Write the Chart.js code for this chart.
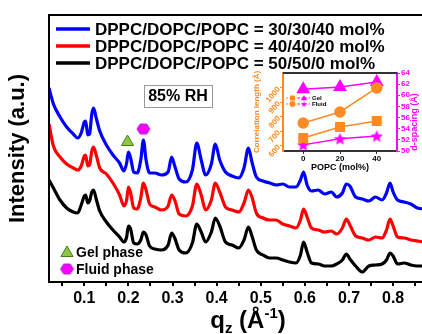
<!DOCTYPE html>
<html>
<head>
<meta charset="utf-8">
<script src="https://cdn.jsdelivr.net/npm/chart.js@4.4.0/dist/chart.umd.min.js"></script>
<style>
  html, body { margin: 0; padding: 0; overflow: hidden; background: #fff; }
  #wrap { position: relative; width: 422px; height: 334px; overflow: hidden; }
  #main { position: absolute; left: 0; top: 0; }
  #inset { position: absolute; left: 240px; top: 60px; }
</style>
</head>
<body>
<div id="wrap">
  <canvas id="main" width="432" height="334"></canvas>
  <canvas id="inset" width="182" height="120"></canvas>
</div>
<script>
Chart.defaults.font.family = "'Liberation Sans', Arial, sans-serif";
Chart.defaults.color = "#000";

// ---- main XRD curves (q in 1/A, intensity in a.u., curves already offset) ----
const qValues = [0.02, 0.03, 0.045, 0.06, 0.075, 0.085, 0.093, 0.1, 0.103, 0.108,
  0.112, 0.117, 0.121, 0.127, 0.135, 0.15, 0.165, 0.18, 0.19, 0.196,
  0.2, 0.205, 0.212, 0.22, 0.228, 0.234, 0.24, 0.248, 0.26, 0.275,
  0.29, 0.298, 0.305, 0.315, 0.33, 0.345, 0.355, 0.365, 0.375, 0.388,
  0.397, 0.407, 0.42, 0.435, 0.45, 0.462, 0.472, 0.48, 0.49, 0.505,
  0.52, 0.535, 0.55, 0.565, 0.58, 0.59, 0.597, 0.605, 0.615, 0.63,
  0.645, 0.66, 0.672, 0.685, 0.694, 0.702, 0.715, 0.73, 0.745, 0.76,
  0.775, 0.785, 0.793, 0.8, 0.81, 0.825, 0.84, 0.855, 0.87];

const intensity303040 = [194, 178, 165, 155, 148, 144, 149, 160, 161, 147,
  148, 168, 174, 164, 151, 137, 127, 119, 111, 119,
  130, 124, 110, 109, 122, 142, 122, 109, 109, 107,
  110, 125, 116, 103, 100, 112, 139, 122, 107, 118,
  138, 122, 110, 106, 104, 114, 134, 120, 105, 101,
  99, 97, 98, 95, 95, 102, 110, 97, 91, 92,
  88, 90, 85, 89, 98, 96, 85, 83, 81, 85,
  82, 89, 99, 90, 82, 80, 78, 74, 73];

const intensity404020 = [158, 136, 125, 118, 114, 112, 116, 126, 127, 116,
  117, 131, 135, 127, 114, 108, 99, 87, 76, 82,
  95, 89, 74, 73, 84, 99, 92, 78, 75, 72,
  76, 87, 82, 68, 66, 76, 98, 87, 72, 82,
  99, 90, 75, 72, 70, 79, 92, 85, 69, 64,
  62, 62, 58, 56, 54, 62, 73, 65, 54, 52,
  50, 51, 48, 54, 63, 57, 46, 44, 42, 45,
  44, 52, 63, 56, 45, 44, 42, 41, 40];

const intensity50500 = [102, 94, 82, 74, 70, 69, 77, 86, 87, 79,
  81, 90, 92, 83, 71, 60, 52, 45, 40, 45,
  56, 53, 39, 38, 42, 50, 47, 36, 33, 32,
  37, 49, 44, 32, 29, 39, 58, 50, 40, 50,
  64, 56, 40, 37, 34, 42, 55, 46, 32, 27,
  24, 24, 22, 20, 19, 27, 40, 30, 19, 18,
  16, 16, 18, 22, 28, 23, 16, 10, 16, 17,
  18, 22, 29, 26, 18, 19, 17, 16, 16];

const seriesLabels = [
  "DPPC/DOPC/POPC = 30/30/40 mol%",
  "DPPC/DOPC/POPC = 40/40/20 mol%",
  "DPPC/DOPC/POPC = 50/50/0 mol%"
];
const seriesColors = ["#0000ff", "#ff0000", "#000000"];
const qTicks = [0.05, 0.1, 0.15, 0.2, 0.25, 0.3, 0.35, 0.4, 0.45, 0.5, 0.55, 0.6, 0.65, 0.7, 0.75, 0.8, 0.85];

// phase markers above the blue curve
const phaseMarkQ = [0.198, 0.234];
const phaseMarkI = [140, 153];
const phaseNames = ["Gel phase", "Fluid phase"];

// ---- inset ----
const popc = [0, 20, 40];
const corrGel = [655, 731, 772];
const corrFluid = [758, 834, 1000];
const dGel = [61.1, 61.5, 62.4];
const dFluid = [51.1, 52.2, 52.7];
const corrTicks = [600, 700, 800, 900, 1000];
const dTicks = [50, 52, 54, 56, 58, 60, 62, 64];
const popcTicks = [0, 20, 40];

const ORANGE = "#ff8a24";
const MAGENTA = "#ff00ff";
const GREEN = "#8dc63f";
const FONT = "'Liberation Sans', Arial, sans-serif";

function hexagonImg(w, h, fill, stroke) {
  const c = document.createElement("canvas");
  c.width = w + 2; c.height = h + 2;
  const g = c.getContext("2d");
  const cx = c.width / 2, cy = c.height / 2;
  g.beginPath();
  for (let i = 0; i < 6; i++) {
    const a = Math.PI / 3 * i;
    g.lineTo(cx + (w / 2) * Math.cos(a), cy + (h / 2) * Math.sin(a) / Math.sin(Math.PI / 3));
  }
  g.closePath();
  g.fillStyle = fill; g.fill();
  g.lineWidth = 1; g.strokeStyle = stroke; g.stroke();
  return c;
}

function starImg(r, fill) {
  const c = document.createElement("canvas");
  c.width = c.height = Math.ceil(2 * r + 2);
  const g = c.getContext("2d");
  const cx = c.width / 2, cy = c.height / 2 + r * 0.1;
  g.beginPath();
  for (let i = 0; i < 10; i++) {
    const a = -Math.PI / 2 + i * Math.PI / 5;
    const rr = i % 2 ? r * 0.45 : r;
    g.lineTo(cx + rr * Math.cos(a), cy + rr * Math.sin(a));
  }
  g.closePath();
  g.fillStyle = fill; g.fill();
  return c;
}

const hexImg = hexagonImg(13, 10, MAGENTA, "#9933cc");
const starMark = starImg(6.5, MAGENTA);
const starSmall = starImg(3, MAGENTA);

function drawTriangle(ctx, x, y, r, fill, stroke) {
  ctx.beginPath();
  ctx.moveTo(x, y - r);
  ctx.lineTo(x + r * 0.866, y + r * 0.5);
  ctx.lineTo(x - r * 0.866, y + r * 0.5);
  ctx.closePath();
  ctx.fillStyle = fill; ctx.fill();
  if (stroke) { ctx.lineWidth = 1; ctx.strokeStyle = stroke; ctx.stroke(); }
}

// frame, legend, RH box, phase legend and x title
const mainDecor = {
  id: "mainDecor",
  afterDatasetsDraw(chart) {
    const { ctx, chartArea: a } = chart;
    ctx.save();
    ctx.strokeStyle = "#000";
    ctx.lineWidth = 2;
    ctx.strokeRect(a.left, a.top, a.right - a.left, a.bottom - a.top);

    // series legend
    const rows = [29, 46, 63];
    ctx.font = "bold 17px " + FONT;
    ctx.textBaseline = "middle";
    ctx.textAlign = "left";
    for (let i = 0; i < 3; i++) {
      ctx.strokeStyle = seriesColors[i];
      ctx.lineWidth = 3.5;
      ctx.beginPath();
      ctx.moveTo(56, rows[i]);
      ctx.lineTo(90, rows[i]);
      ctx.stroke();
      ctx.fillStyle = "#000";
      ctx.fillText(seriesLabels[i], 95, rows[i] + 1);
    }

    // 85% RH box
    ctx.strokeStyle = "#999";
    ctx.lineWidth = 1;
    ctx.strokeRect(144.5, 85.5, 68, 22);
    ctx.font = "bold 16px " + FONT;
    ctx.textAlign = "center";
    ctx.fillText("85% RH", 178, 97);

    // phase legend
    ctx.textAlign = "left";
    ctx.font = "bold 14px " + FONT;
    drawTriangle(ctx, 67, 253, 7, GREEN, "#4a7a20");
    ctx.fillStyle = "#000";
    ctx.fillText(phaseNames[0], 76, 253);
    ctx.drawImage(hexImg, 67 - hexImg.width / 2, 269 - hexImg.height / 2);
    ctx.fillText(phaseNames[1], 76, 270);

    // x axis title q_z (A^-1)
    const big = "bold 24px " + FONT, small = "bold 15px " + FONT;
    const parts = [["q", big, 0], ["z", small, 5], [" (Å", big, 0], ["-1", small, -10], [")", big, 0]];
    ctx.textBaseline = "alphabetic";
    let total = 0;
    parts.forEach(p => { ctx.font = p[1]; total += ctx.measureText(p[0]).width; });
    let x = 248 - total / 2;
    parts.forEach(p => {
      ctx.font = p[1];
      ctx.fillText(p[0], x, 328 + p[2]);
      x += ctx.measureText(p[0]).width;
    });
    ctx.restore();
  }
};

const curves = [intensity303040, intensity404020, intensity50500];
const lineSets = curves.map((arr, i) => ({
  type: "line",
  label: seriesLabels[i],
  data: qValues.map((q, j) => ({ x: q, y: arr[j] })),
  borderColor: seriesColors[i],
  borderWidth: 3.2,
  pointRadius: 0,
  cubicInterpolationMode: "monotone",
  borderJoinStyle: "round"
}));

const markerSet = {
  type: "scatter",
  label: "phase",
  data: phaseMarkQ.map((q, i) => ({ x: q, y: phaseMarkI[i] })),
  pointStyle: ["triangle", hexImg],
  pointRadius: [7, 7],
  backgroundColor: [GREEN, MAGENTA],
  borderColor: ["#4a7a20", "#9933cc"],
  borderWidth: 1
};

new Chart(document.getElementById("main"), {
  type: "line",
  data: { datasets: [...lineSets, markerSet] },
  options: {
    responsive: false,
    animation: false,
    devicePixelRatio: 1,
    events: [],
    layout: { padding: { top: 15, right: 3, left: 0, bottom: 0 } },
    plugins: { legend: { display: false }, tooltip: { enabled: false } },
    scales: {
      x: {
        type: "linear",
        min: 0.02,
        max: 0.87,
        afterBuildTicks: s => { s.ticks = qTicks.map(v => ({ value: v })); },
        afterFit: s => { s.height = 52; },
        ticks: {
          font: { size: 16, weight: "bold" },
          color: "#000",
          padding: 3,
          maxRotation: 0,
          autoSkip: false,
          callback: v => (Math.round(v * 100) % 10 === 0 ? v.toFixed(1) : "")
        },
        grid: { drawOnChartArea: false, color: "#000", tickLength: 4, lineWidth: 2 },
        border: { color: "#000", width: 2 }
      },
      y: {
        min: 0,
        max: 267,
        afterFit: s => { s.width = 49; },
        ticks: { display: false },
        grid: { display: false },
        border: { color: "#000", width: 2 },
        title: {
          display: true,
          text: "Intensity (a.u.)",
          font: { size: 22, weight: "bold" },
          color: "#000",
          padding: { top: 5, bottom: 0 }
        }
      }
    }
  },
  plugins: [mainDecor]
});

// ---- inset chart ----
const insetDecor = {
  id: "insetDecor",
  afterDraw(chart) {
    const { ctx, chartArea: a } = chart;
    ctx.save();
    ctx.strokeStyle = "#333";
    ctx.lineWidth = 2;
    ctx.beginPath();
    ctx.moveTo(a.left, a.top);
    ctx.lineTo(a.right, a.top);
    ctx.stroke();

    // right title reads bottom to top
    ctx.translate(175, 62);
    ctx.rotate(-Math.PI / 2);
    ctx.font = "bold 9px " + FONT;
    ctx.fillStyle = MAGENTA;
    ctx.textAlign = "center";
    ctx.textBaseline = "middle";
    ctx.fillText("d-spacing (Å)", 0, 0);
    ctx.restore();

    // small legend
    ctx.save();
    ctx.setLineDash([2, 1.5]);
    ctx.lineWidth = 1;
    const rows = [38, 44];
    rows.forEach(y => {
      ctx.strokeStyle = ORANGE;
      ctx.beginPath(); ctx.moveTo(46, y); ctx.lineTo(58, y); ctx.stroke();
      ctx.strokeStyle = MAGENTA;
      ctx.beginPath(); ctx.moveTo(58, y); ctx.lineTo(70, y); ctx.stroke();
    });
    ctx.setLineDash([]);
    ctx.fillStyle = ORANGE;
    ctx.fillRect(50, 35.5, 5, 5);
    ctx.beginPath(); ctx.arc(52.5, 44, 3, 0, Math.PI * 2); ctx.fill();
    drawTriangle(ctx, 64, 38.5, 3.5, MAGENTA);
    ctx.drawImage(starSmall, 64 - starSmall.width / 2, 44 - starSmall.height / 2);
    ctx.fillStyle = "#000";
    ctx.font = "bold 6px " + FONT;
    ctx.textBaseline = "middle";
    ctx.fillText("Gel", 72, 38);
    ctx.fillText("Fluid", 72, 44);
    ctx.restore();
  }
};

new Chart(document.getElementById("inset"), {
  type: "line",
  data: {
    datasets: [
      {
        label: "Gel corr",
        data: popc.map((p, i) => ({ x: p, y: corrGel[i] })),
        yAxisID: "yL",
        borderColor: ORANGE, backgroundColor: ORANGE,
        borderWidth: 1.5, pointStyle: "rect", pointRadius: 6, tension: 0
      },
      {
        label: "Fluid corr",
        data: popc.map((p, i) => ({ x: p, y: corrFluid[i] })),
        yAxisID: "yL",
        borderColor: ORANGE, backgroundColor: ORANGE,
        borderWidth: 1.5, pointStyle: "circle", pointRadius: 5, tension: 0
      },
      {
        label: "Gel d",
        data: popc.map((p, i) => ({ x: p, y: dGel[i] })),
        yAxisID: "yR",
        borderColor: MAGENTA, backgroundColor: MAGENTA,
        borderWidth: 1.5, pointStyle: "triangle", pointRadius: 6.5, tension: 0
      },
      {
        label: "Fluid d",
        data: popc.map((p, i) => ({ x: p, y: dFluid[i] })),
        yAxisID: "yR",
        borderColor: MAGENTA, backgroundColor: MAGENTA,
        borderWidth: 1.5, pointStyle: starMark, pointRadius: 6, tension: 0
      }
    ]
  },
  options: {
    responsive: false,
    animation: false,
    devicePixelRatio: 1,
    events: [],
    layout: { padding: { top: 13, left: 0, right: 0, bottom: 0 } },
    plugins: { legend: { display: false }, tooltip: { enabled: false } },
    scales: {
      x: {
        type: "linear",
        min: -11,
        max: 51,
        afterBuildTicks: s => { s.ticks = popcTicks.map(v => ({ value: v })); },
        afterFit: s => { s.height = 29; },
        ticks: { font: { size: 8, weight: "bold" }, color: "#000", padding: 0, maxRotation: 0, autoSkip: false },
        grid: { drawOnChartArea: false, color: "#333", tickLength: 3 },
        border: { color: "#333", width: 2 },
        title: {
          display: true,
          text: "POPC (mol%)",
          font: { size: 9, weight: "bold" },
          color: "#000",
          padding: { top: 0, bottom: 7.5 }
        }
      },
      yL: {
        position: "left",
        min: 565,
        max: 1103,
        afterBuildTicks: s => { s.ticks = corrTicks.map(v => ({ value: v })); },
        afterFit: s => { s.width = 43; },
        ticks: {
          font: { size: 8, weight: "bold" }, color: ORANGE,
          minRotation: 50, maxRotation: 50, padding: 1, autoSkip: false,
          callback: v => String(v)
        },
        grid: { drawOnChartArea: false, color: ORANGE, tickLength: 3 },
        border: { color: ORANGE, width: 2 },
        title: {
          display: true,
          text: "Correlation length (Å)",
          font: { size: 8, weight: "bold" },
          color: ORANGE,
          padding: { top: 11.5, bottom: 0 }
        }
      },
      yR: {
        position: "right",
        min: 50,
        max: 64,
        afterBuildTicks: s => { s.ticks = dTicks.map(v => ({ value: v })); },
        afterFit: s => { s.width = 25; },
        ticks: { font: { size: 8, weight: "bold" }, color: MAGENTA, padding: 1, autoSkip: false, callback: v => String(v) },
        grid: { drawOnChartArea: false, color: MAGENTA, tickLength: 3 },
        border: { color: MAGENTA, width: 2 }
      }
    }
  },
  plugins: [insetDecor]
});
</script>
</body>
</html>
